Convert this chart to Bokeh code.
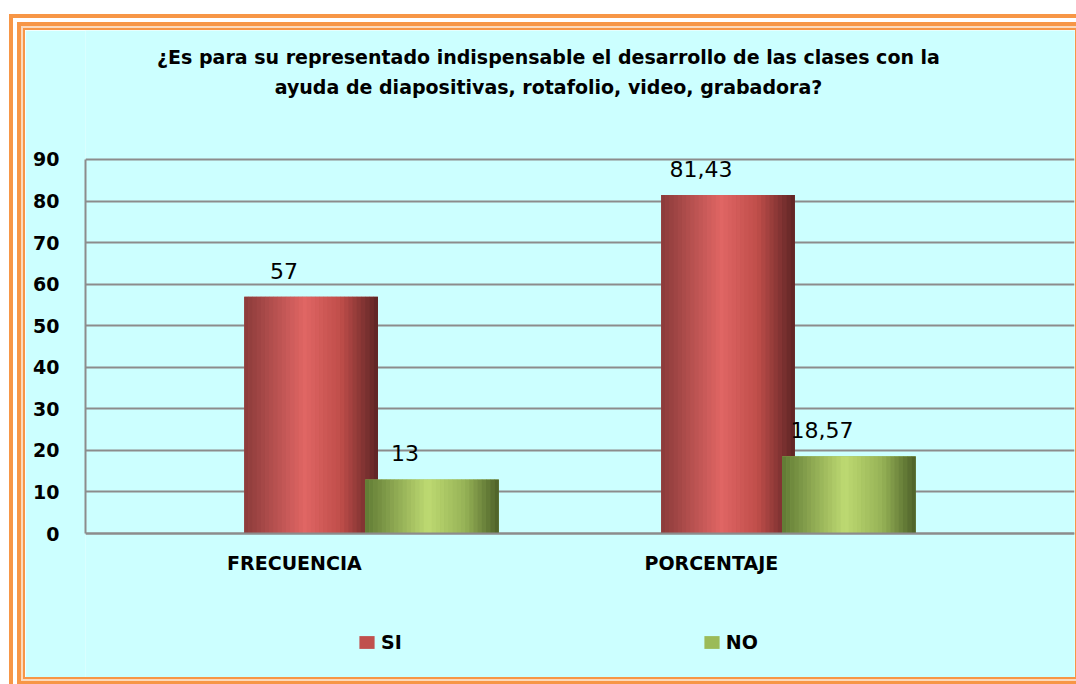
import numpy as np
from bokeh.plotting import figure
from bokeh.models import ColumnDataSource, Legend, LegendItem, FixedTicker, Label, LinearAxis
from bokeh.core.properties import value
from bokeh.embed import file_html
from bokeh.resources import INLINE

# ---- data ----
title_lines = [
    "¿Es para su representado indispensable el desarrollo de las clases con la",
    "ayuda de diapositivas, rotafolio, video, grabadora?",
]
categories = ["FRECUENCIA", "PORCENTAJE"]
series_names = ["SI", "NO"]
si_values = [57, 81.43]
no_values = [13, 18.57]
si_labels = ["57", "81,43"]
no_labels = ["13", "18,57"]
y_ticks = [0, 10, 20, 30, 40, 50, 60, 70, 80, 90]

# ---- styles ----
BG = "#CCFFFF"
GRID = "#8C8C8C"
SI_COLOR = "#C0504D"
NO_COLOR = "#9BBB59"
SI_STOPS = [(0.0, (138, 58, 58)), (0.45, (224, 102, 100)), (0.72, (192, 78, 74)), (1.0, (92, 36, 36))]
NO_STOPS = [(0.0, (96, 122, 52)), (0.47, (190, 218, 114)), (0.75, (150, 178, 86)), (1.0, (76, 96, 40))]
BAR_W = 0.32
SI_OFF = 0.04
NO_OFF = 0.33
N_STRIPES = 32

# the frame spans the whole chart area so that title and legend can live inside it
p = figure(width=1050, height=647, x_range=(-0.501, 1.871), y_range=(-34.65, 121.04),
           output_backend="svg", toolbar_location=None, x_axis_location=None,
           min_border_left=60, min_border_right=1, min_border_top=0, min_border_bottom=0,
           background_fill_color=BG, border_fill_color=BG, outline_line_color=None)
p.styles = {
    "position": "relative", "left": "25px", "top": "30px",
    "box-shadow": "0 0 0 2px #F79646, 0 0 0 4px #FBD9BC, 0 0 0 8px #F79646, 0 0 0 12px #FFFFFF, 0 0 0 16px #F79646",
}

xs = np.arange(len(categories))


def stripe_source(centers, heights, stops):
    pos = np.array([s[0] for s in stops])
    cols = np.array([s[1] for s in stops], dtype=float)
    x, top, color = [], [], []
    for c, h in zip(centers, heights):
        for k in range(N_STRIPES):
            t = (k + 0.5) / N_STRIPES
            rgb = [int(round(np.interp(t, pos, cols[:, j]))) for j in range(3)]
            x.append(c - BAR_W / 2 + t * BAR_W)
            top.append(h)
            color.append("#%02x%02x%02x" % tuple(rgb))
    return ColumnDataSource(dict(x=x, top=top, color=color))


si_src = ColumnDataSource(dict(x=xs + SI_OFF, top=si_values, label=si_labels))
no_src = ColumnDataSource(dict(x=xs + NO_OFF, top=no_values, label=no_labels))

r_si = p.vbar(x="x", top="top", width=BAR_W, bottom=0, source=si_src,
              fill_color=SI_COLOR, line_color=None)
p.vbar(x="x", top="top", width=BAR_W / N_STRIPES * 1.1, bottom=0,
       source=stripe_source(xs + SI_OFF, si_values, SI_STOPS),
       fill_color="color", line_color=None)
r_no = p.vbar(x="x", top="top", width=BAR_W, bottom=0, source=no_src,
              fill_color=NO_COLOR, line_color=None)
p.vbar(x="x", top="top", width=BAR_W / N_STRIPES * 1.1, bottom=0,
       source=stripe_source(xs + NO_OFF, no_values, NO_STOPS),
       fill_color="color", line_color=None)

for src in (si_src, no_src):
    p.text(x="x", y="top", text="label", source=src,
           text_font=value("DejaVu Sans"), text_font_size="22px", text_color="black",
           text_align="center", text_baseline="bottom", x_offset=-27, y_offset=-18)

# y axis
p.yaxis.ticker = FixedTicker(ticks=y_ticks)
p.yaxis.bounds = (0, 90)
p.yaxis.major_label_text_font = "DejaVu Sans"
p.yaxis.major_label_text_font_style = "bold"
p.yaxis.major_label_text_font_size = "19px"
p.yaxis.major_label_text_color = "black"
p.yaxis.major_tick_line_color = None
p.yaxis.minor_tick_line_color = None
p.yaxis.major_tick_out = 0
p.yaxis.major_tick_in = 0
p.yaxis.major_label_standoff = 26
p.yaxis.axis_line_color = GRID
p.yaxis.axis_line_width = 2

# x axis at value 0
xaxis = LinearAxis(fixed_location=0, ticker=FixedTicker(ticks=list(xs)),
                   major_label_overrides={int(i): c for i, c in zip(xs, categories)},
                   major_label_text_font="DejaVu Sans", major_label_text_font_style="bold",
                   major_label_text_font_size="19px", major_label_text_color="black",
                   major_tick_line_color=None, minor_tick_line_color=None,
                   major_tick_out=0, major_tick_in=0, major_label_standoff=18,
                   axis_line_color=GRID, axis_line_width=2)
p.add_layout(xaxis, "below")

p.xgrid.grid_line_color = None
p.ygrid.grid_line_color = GRID
p.ygrid.grid_line_width = 2

# title (screen units relative to the frame's bottom-left)
for line, yy in zip(title_lines, [621, 591]):
    p.add_layout(Label(x=463, y=yy, x_units="screen", y_units="screen", text=line,
                       text_align="center", text_baseline="middle",
                       text_font="DejaVu Sans", text_font_style="bold",
                       text_font_size="19px", text_color="black"))

legend = Legend(items=[LegendItem(label=series_names[0], renderers=[r_si]),
                       LegendItem(label=series_names[1], renderers=[r_no])],
                orientation="horizontal", location=(272, 24),
                glyph_width=19, glyph_height=16, label_height=16, label_standoff=5,
                spacing=300, padding=0, margin=0,
                border_line_color=None, background_fill_alpha=0,
                label_text_font="DejaVu Sans", label_text_font_style="bold",
                label_text_font_size="19px", label_text_color="black")
p.add_layout(legend, "center")

open("out.html", "w").write(file_html(p, INLINE))
